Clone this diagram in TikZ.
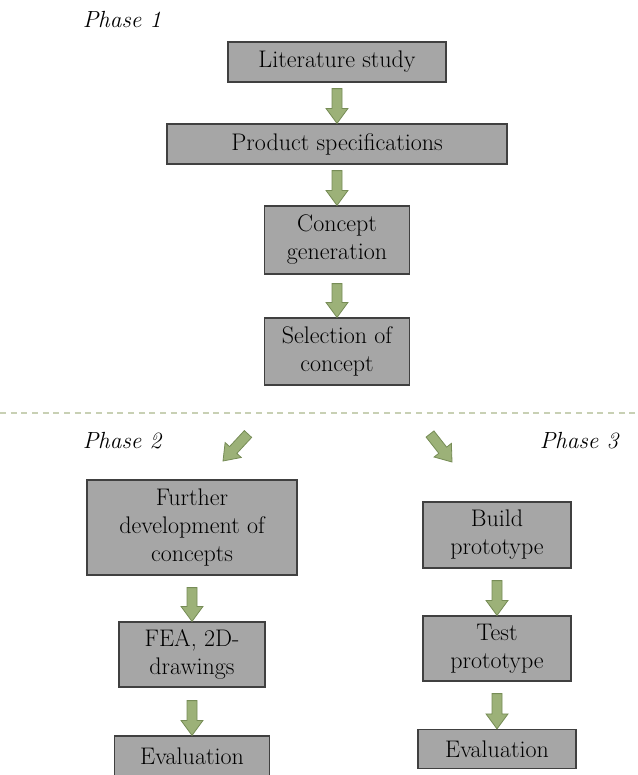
\documentclass[tikz,border=0pt]{standalone}
\usetikzlibrary{calc}

\definecolor{boxfill}{RGB}{166,166,166}
\definecolor{boxedge}{RGB}{64,64,64}
\definecolor{arrowfill}{RGB}{156,177,120}
\definecolor{arrowedge}{RGB}{118,140,86}
\definecolor{phaseline}{RGB}{200,208,180}

\tikzset{
  stage/.style={draw=boxedge, fill=boxfill, line width=0.9pt, inner sep=0pt,
    align=center, font={\fontsize{18}{21}\selectfont}},
  phase/.style={font={\fontsize{17.5}{21}\selectfont\itshape}},
  blockarrow/.style={draw=arrowedge, fill=arrowfill, line width=0.6pt, line join=miter,
    to path={
      ($(\tikztostart)!3.75pt!90:(\tikztotarget)$)
      -- ($(\tikztotarget)!11.25pt!(\tikztostart)!3.75pt!90:(\tikztotarget)$)
      -- ($(\tikztotarget)!11.25pt!(\tikztostart)!8.25pt!90:(\tikztotarget)$)
      -- (\tikztotarget)
      -- ($(\tikztotarget)!11.25pt!(\tikztostart)!8.25pt!-90:(\tikztotarget)$)
      -- ($(\tikztotarget)!11.25pt!(\tikztostart)!3.75pt!-90:(\tikztotarget)$)
      -- ($(\tikztostart)!3.75pt!-90:(\tikztotarget)$) -- cycle}}
}

\begin{document}
\begin{tikzpicture}[x=0.75pt, y=-0.75pt]
  \useasboundingbox (0,0) rectangle (638,775);

  % Phase 1
  \node[phase] (p1) at (122,20) {Phase 1};
  \node[stage, minimum width=163.5pt, minimum height=30pt] (lit) at (337,62) {Literature study};
  \node[stage, minimum width=255pt, minimum height=30pt] (spec) at (337,144) {Product specifications};
  \node[stage, minimum width=108.75pt, minimum height=51pt] (gen) at (337,240) {Concept\\generation};
  \node[stage, minimum width=108.75pt, minimum height=50.25pt] (sel) at (337,351.5) {Selection of\\concept};

  \draw[blockarrow] ([yshift=-4.5pt]lit.south) to (spec.north);
  \draw[blockarrow] ([yshift=-4.5pt]spec.south) to (gen.north);
  \draw[blockarrow] ([yshift=-6.75pt]gen.south) to (sel.north);

  % split between the phases
  \draw[phaseline, line width=1.5pt, dash pattern=on 4.5pt off 3.5pt] (0,413) -- (638,413);
  \coordinate (l0) at (248,434);
  \coordinate (l1) at (223,461);
  \coordinate (r0) at (430,434);
  \coordinate (r1) at (452,462);
  \draw[blockarrow] (l0) to (l1);
  \draw[blockarrow] (r0) to (r1);

  % Phase 2
  \node[phase] (p2) at (122,441) {Phase 2};
  \node[stage, minimum width=157.5pt, minimum height=71.25pt] (fur) at (192,527.5) {Further\\development of\\concepts};
  \node[stage, minimum width=109.5pt, minimum height=48.75pt] (fea) at (192,654.5) {FEA, 2D-\\drawings};
  \node[stage, minimum width=116.25pt, minimum height=30pt] (evl) at (192,756) {Evaluation};

  \draw[blockarrow] ([yshift=-9pt]fur.south) to (fea.north);
  \draw[blockarrow] ([yshift=-9.75pt]fea.south) to (evl.north);

  % Phase 3
  \node[phase] (p3) at (579,441) {Phase 3};
  \node[stage, minimum width=111pt, minimum height=49.5pt] (build) at (497,535) {Build\\prototype};
  \node[stage, minimum width=111pt, minimum height=48.75pt] (test) at (497,648.5) {Test\\prototype};
  \node[stage, minimum width=118.5pt, minimum height=29.25pt] (evr) at (497,749) {Evaluation};

  \draw[blockarrow] ([yshift=-9pt]build.south) to (test.north);
  \draw[blockarrow] ([yshift=-9pt]test.south) to (evr.north);
\end{tikzpicture}
\end{document}
